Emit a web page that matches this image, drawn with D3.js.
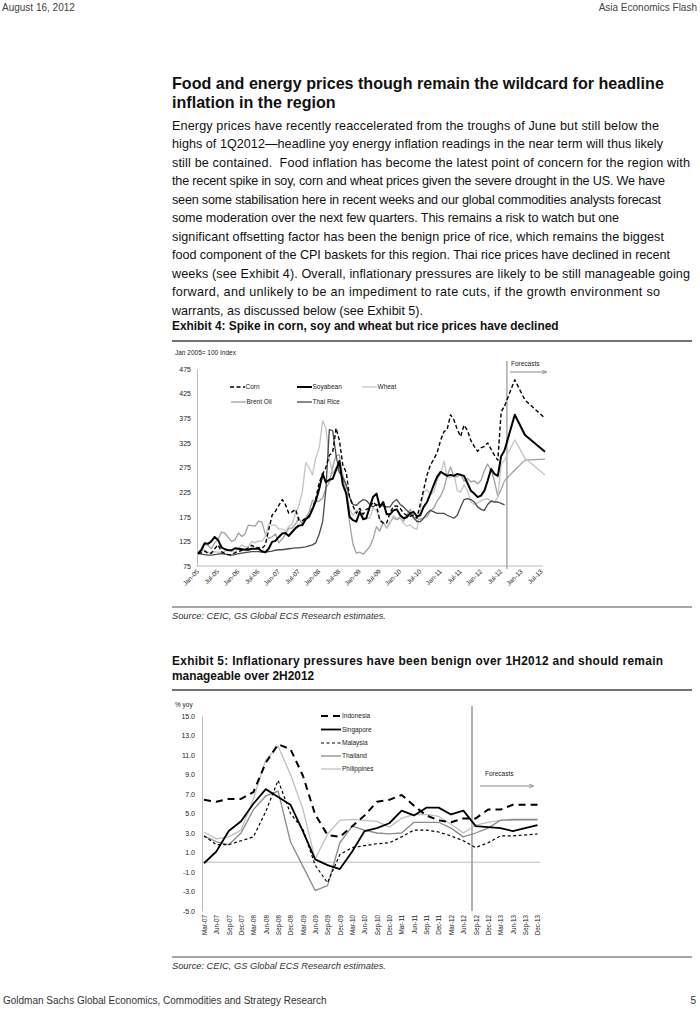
<!DOCTYPE html>
<html><head><meta charset="utf-8">
<script src="https://cdn.jsdelivr.net/npm/d3@7/dist/d3.min.js"></script>
<style>
html,body{margin:0;padding:0;background:#fff;}
svg{display:block;font-family:"Liberation Sans",Arial,sans-serif;}
</style></head>
<body>
<svg id="page" width="700" height="1009"></svg>
<script>
// ---------------- DATA ----------------
// Exhibit 4: monthly, Jan-05 .. Aug-12 (Jan 2005 = 100)
const ex4Start = "2005-01";
const corn = [100,102,105,101,101,110,118,104,100,98,97,102,
  104,107,108,112,117,113,112,110,118,148,178,186,
  198,210,200,182,185,190,168,167,172,177,192,212,
  245,262,275,300,305,355,330,280,265,215,197,182,
  192,180,190,193,205,198,168,162,162,183,196,197,
  192,182,178,176,178,172,200,230,260,280,292,305,
  330,348,352,382,372,352,338,361,350,330,318,308,
  315,318,325,312,300,290,388,400];
const soybean = [100,108,121,120,125,134,128,113,109,107,107,111,
  110,109,108,108,110,110,110,105,103,110,124,126,
  134,141,142,136,144,152,157,158,170,175,190,207,
  232,262,245,250,252,270,288,240,222,175,168,165,
  185,170,172,195,215,222,195,205,180,180,188,190,
  178,172,174,182,185,176,178,195,205,222,240,256,
  266,262,258,260,258,262,260,258,243,228,222,215,
  218,228,248,272,262,258,298,310];
const wheat = [100,104,108,103,101,104,103,102,105,108,104,103,
  110,118,114,114,125,122,126,125,135,160,158,158,
  150,150,146,155,160,182,198,225,285,275,260,295,
  315,370,355,292,262,275,265,262,235,190,178,188,
  190,175,172,172,192,188,170,162,152,162,177,172,
  174,162,156,158,152,150,188,225,230,220,225,250,
  262,288,255,255,262,228,225,240,228,205,200,203,
  208,210,212,205,205,215,282,290];
const brent = [100,103,119,117,110,122,129,144,142,133,125,128,
  142,135,140,158,157,156,166,164,140,131,134,140,
  122,130,139,152,152,160,173,159,173,185,208,206,
  207,213,233,245,276,299,300,256,223,163,119,101,
  103,99,106,114,130,155,146,164,152,164,173,169,
  172,166,178,190,171,167,170,173,175,187,193,207,
  217,233,258,276,257,256,262,247,253,246,248,242,
  249,269,282,269,248,216,231,248];
const thaiRice = [100,99,98,97,97,98,99,100,99,98,97,98,
  100,101,102,103,104,104,104,103,103,104,105,107,
  108,108,109,110,111,112,112,113,114,116,118,122,
  140,165,230,352,350,300,265,255,240,215,200,198,
  205,210,208,200,195,200,198,197,195,195,205,210,
  200,195,188,182,175,165,165,172,182,188,185,182,
  182,182,178,175,172,178,195,210,212,210,205,195,
  190,188,200,207,205,205,202,199];
// Exhibit 4 forecasts (from last actual)
const fcDates = ["2012-08","2012-11","2013-02","2013-08"];
const cornFc = [400,453,412,375];
const soybeanFc = [310,382,341,307];
const wheatFc = [290,331,294,260];
const brentFc = [248,270,290,292];
const ex4Ticks = [75,125,175,225,275,325,375,425,475];

// Exhibit 5: quarterly % yoy
const quarters = ["Mar-07","Jun-07","Sep-07","Dec-07","Mar-08","Jun-08","Sep-08","Dec-08",
  "Mar-09","Jun-09","Sep-09","Dec-09","Mar-10","Jun-10","Sep-10","Dec-10",
  "Mar-11","Jun-11","Sep-11","Dec-11","Mar-12","Jun-12","Sep-12","Dec-12",
  "Mar-13","Jun-13","Sep-13","Dec-13"];
const indonesia = [6.4,6.2,6.5,6.5,7.2,10.2,12.1,11.6,8.9,4.9,2.8,2.6,3.7,4.8,6.2,6.4,6.9,5.8,4.8,4.3,4.1,4.5,4.5,5.4,5.4,5.9,5.9,5.9];
const singapore = [-0.1,1.1,3.2,4.2,6.0,7.5,6.7,5.9,3.2,0.3,-0.3,-0.7,1.1,3.2,3.5,4.0,5.3,4.8,5.6,5.6,4.9,5.3,3.7,3.6,3.5,3.2,3.5,3.8];
const malaysia = [2.7,1.8,1.8,2.2,2.6,5.2,8.4,5.0,3.4,-0.3,-2.1,0.8,1.5,1.7,1.9,2.0,2.6,3.3,3.3,3.1,2.7,2.2,1.5,2.0,2.7,2.7,2.8,2.9];
const thailand = [2.7,2.1,1.8,3.0,5.4,6.8,7.3,2.1,-0.4,-2.9,-2.4,2.0,3.7,3.3,3.0,2.9,3.0,4.1,4.1,4.1,3.5,2.6,3.0,3.5,4.3,4.4,4.4,4.4];
const philippines = [3.1,2.4,2.6,3.3,6.5,10.5,11.9,9.0,5.5,0.3,2.9,4.3,4.4,4.3,4.2,3.6,4.5,4.9,4.9,4.7,3.9,3.0,3.8,4.1,4.3,4.3,4.3,4.3];
const ex5Ticks = [-5,-3,-1,1,3,5,7,9,11,13,15];

const bodyLines = [
 "Energy prices have recently reaccelerated from the troughs of June but still below the",
 "highs of 1Q2012\u2014headline yoy energy inflation readings in the near term will thus likely",
 "still be contained.\u00a0 Food inflation has become the latest point of concern for the region with",
 "the recent spike in soy, corn and wheat prices given the severe drought in the US. We have",
 "seen some stabilisation here in recent weeks and our global commodities analysts forecast",
 "some moderation over the next few quarters. This remains a risk to watch but one",
 "significant offsetting factor has been the benign price of rice, which remains the biggest",
 "food component of the CPI baskets for this region. Thai rice prices have declined in recent",
 "weeks (see Exhibit 4). Overall, inflationary pressures are likely to be still manageable going",
 "forward, and unlikely to be an impediment to rate cuts, if the growth environment so",
 "warrants, as discussed below (see Exhibit 5)."
];
const bodyEnds = [659,663,690,665,661,619,664,670,690,660,423];

// ---------------- PAGE ----------------
const svg = d3.select("#page");
svg.append("rect").attr("width",700).attr("height",1009).attr("fill","#fff");
const txt = (x,y,s,opt={}) => {
  const t = svg.append("text").attr("x",x).attr("y",y).text(s)
   .attr("font-size",opt.size||10).attr("fill",opt.fill||"#222")
   .attr("font-weight",opt.weight||"normal").attr("font-style",opt.style||"normal")
   .attr("text-anchor",opt.anchor||"start");
  if(opt.len) t.attr("textLength",opt.len).attr("lengthAdjust","spacing");
  return t;
};
const rule = (y,w,c) => svg.append("line").attr("x1",172).attr("x2",692).attr("y1",y).attr("y2",y)
   .attr("stroke",c).attr("stroke-width",w);

txt(2,11,"August 16, 2012",{size:10,fill:"#444"});
txt(697,11,"Asia Economics Flash",{size:10,fill:"#444",anchor:"end"});
txt(172,89,"Food and energy prices though remain the wildcard for headline",{size:16.1,weight:"bold",fill:"#111"});
txt(172,108,"inflation in the region",{size:16.1,weight:"bold",fill:"#111"});
bodyLines.forEach((l,i)=>txt(172,129.5+i*18.5,l,{size:12.6,fill:"#111",len:bodyEnds[i]-172}));

txt(172,330,"Exhibit 4: Spike in corn, soy and wheat but rice prices have declined",{size:11.9,weight:"bold",fill:"#111"});
rule(341,1.5,"#444");
txt(172,619,"Source: CEIC, GS Global ECS Research estimates.",{size:9.3,style:"italic",fill:"#333"});
rule(607,1.5,"#888");

txt(172,665,"Exhibit 5: Inflationary pressures have been benign over 1H2012 and should remain",{size:11.9,weight:"bold",fill:"#111",len:491});
txt(172,680,"manageable over 2H2012",{size:11.9,weight:"bold",fill:"#111"});
rule(690,1.5,"#444");
txt(172,969,"Source: CEIC, GS Global ECS Research estimates.",{size:9.3,style:"italic",fill:"#333"});
rule(957,1.5,"#888");

txt(3,1004,"Goldman Sachs Global Economics, Commodities and Strategy Research",{size:10,fill:"#333"});
txt(696,1004,"5",{size:10,fill:"#333",anchor:"end"});

svg.append("defs").append("marker").attr("id","arr").attr("viewBox","0 0 6 6").attr("refX",5).attr("refY",3)
  .attr("markerWidth",5).attr("markerHeight",5).attr("orient","auto")
  .append("path").attr("d","M0,0.5 L6,3 L0,5.5").attr("fill","none").attr("stroke","#888").attr("stroke-width",1);

// ---------------- EXHIBIT 4 ----------------
const parseM = d3.timeParse("%Y-%m");
const startDate = parseM(ex4Start);
const histDates = corn.map((d,i)=>d3.timeMonth.offset(startDate,i));
const fcD = fcDates.map(parseM);
const x1 = d3.scaleTime().domain([startDate, parseM("2013-08")]).range([198,545]);
const y1 = d3.scaleLinear().domain([75,475]).range([566,369]);
const g1 = svg.append("g");
txt(175,355,"Jan 2005= 100 Index",{size:6.5,fill:"#222"});

const yAx1 = d3.axisLeft(y1).tickValues(ex4Ticks).tickSize(0).tickPadding(6).tickFormat(d3.format("d"));
g1.append("g").attr("transform","translate(197,0)").call(yAx1)
  .call(g=>{g.select(".domain").attr("stroke","#bbb");g.selectAll("text").attr("font-size",7).attr("fill","#222").attr("font-family","Liberation Sans, Arial");});
const xTicks1 = d3.timeMonth.every(6).range(startDate, parseM("2013-08"));
const xAx1 = d3.axisBottom(x1).tickValues(xTicks1).tickSize(0).tickFormat(d3.timeFormat("%b-%y"));
g1.append("g").attr("transform","translate(0,566)").call(xAx1)
  .call(g=>{g.select(".domain").attr("stroke","#bbb").attr("d","M197,0H543");
    g.selectAll("text").attr("font-size",6.5).attr("fill","#222").attr("font-family","Liberation Sans, Arial")
     .attr("text-anchor","end").attr("dy",0).attr("y",0).attr("transform","translate(1,6) rotate(-45)");});

// forecast divider
const fx1 = x1(parseM("2012-08"))+2.3;
g1.append("line").attr("x1",fx1).attr("x2",fx1).attr("y1",361).attr("y2",569).attr("stroke","#aaa").attr("stroke-width",1.5);
txt(511,366,"Forecasts",{size:6.5,fill:"#222"});
svg.append("line").attr("x1",510).attr("x2",546).attr("y1",372).attr("y2",372).attr("stroke","#888").attr("stroke-width",1).attr("marker-end","url(#arr)");

const s1 = [
 {name:"Brent Oil", v:brent, fc:brentFc, c:"#a0a0a0", w:1.3, dash:null},
 {name:"Wheat", v:wheat, fc:wheatFc, c:"#c4c4c4", w:1.3, dash:null},
 {name:"Thai Rice", v:thaiRice, fc:null, c:"#4a4a4a", w:1.3, dash:null},
 {name:"Soyabean", v:soybean, fc:soybeanFc, c:"#000", w:2, dash:null},
 {name:"Corn", v:corn, fc:cornFc, c:"#000", w:1.4, dash:"4,2.5"}
];
const line1 = d3.line().x(d=>x1(d[0])).y(d=>y1(d[1]));
s1.forEach(s=>{
  const pts = s.v.map((v,i)=>[histDates[i],v]);
  g1.append("path").attr("d",line1(pts)).attr("fill","none").attr("stroke",s.c).attr("stroke-width",s.w)
    .attr("stroke-dasharray",s.dash).attr("stroke-linejoin","round");
  if(s.fc){
    const fp = s.fc.map((v,i)=>[fcD[i],v]);
    g1.append("path").attr("d",line1(fp)).attr("fill","none").attr("stroke",s.c).attr("stroke-width",s.w)
      .attr("stroke-dasharray",s.dash).attr("stroke-linejoin","round");
  }
});
// legend exhibit 4
const leg1 = [
 {name:"Corn",x:230,y:387,c:"#000",w:1.4,dash:"4,2.5"},
 {name:"Soyabean",x:297,y:387,c:"#000",w:2,dash:null},
 {name:"Wheat",x:362,y:387,c:"#c4c4c4",w:1.3,dash:null},
 {name:"Brent Oil",x:231,y:402,c:"#a0a0a0",w:1.3,dash:null},
 {name:"Thai Rice",x:297,y:402,c:"#4a4a4a",w:1.3,dash:null}
];
leg1.forEach(l=>{
  svg.append("line").attr("x1",l.x).attr("x2",l.x+15).attr("y1",l.y).attr("y2",l.y)
   .attr("stroke",l.c).attr("stroke-width",l.w).attr("stroke-dasharray",l.dash);
  txt(l.x+15.5,l.y+2.3,l.name,{size:6.5,fill:"#222"});
});

// ---------------- EXHIBIT 5 ----------------
const x2 = d3.scalePoint().domain(quarters).range([204,537.5]);
const y2 = d3.scaleLinear().domain([-5,15]).range([911,716]);
const g2 = svg.append("g");
txt(175,707,"% yoy",{size:6.5,fill:"#222"});
const fmt5 = d3.formatLocale({decimal:".",thousands:",",grouping:[3],currency:["",""],minus:"-"}).format(".1f");
const yAx2 = d3.axisLeft(y2).tickValues(ex5Ticks).tickSize(0).tickPadding(7).tickFormat(fmt5);
g2.append("g").attr("transform","translate(202,0)").call(yAx2)
  .call(g=>{g.select(".domain").attr("stroke","#bbb");g.selectAll("text").attr("font-size",7).attr("fill","#222").attr("font-family","Liberation Sans, Arial");});
g2.append("line").attr("x1",202).attr("x2",540).attr("y1",y2(0)).attr("y2",y2(0)).attr("stroke","#bbb").attr("stroke-width",1);
const xAx2 = d3.axisBottom(x2).tickSize(0);
g2.append("g").attr("transform","translate(0,911)").call(xAx2)
  .call(g=>{g.select(".domain").remove();
    g.selectAll("text").attr("font-size",6.3).attr("fill","#222").attr("font-family","Liberation Sans, Arial")
     .attr("text-anchor","end").attr("dy",0).attr("y",0).attr("transform","translate(2.3,4) rotate(-90)");});
g2.append("line").attr("x1",472).attr("x2",472).attr("y1",706).attr("y2",911).attr("stroke","#aaa").attr("stroke-width",1.8);
txt(485,776,"Forecasts",{size:6.5,fill:"#222"});
svg.append("line").attr("x1",480).attr("x2",533).attr("y1",786).attr("y2",786).attr("stroke","#888").attr("stroke-width",1).attr("marker-end","url(#arr)");

const s2 = [
 {name:"Indonesia", v:indonesia, c:"#000", w:2, dash:"7,5"},
 {name:"Singapore", v:singapore, c:"#000", w:1.8, dash:null},
 {name:"Malaysia", v:malaysia, c:"#000", w:1.2, dash:"3,2.5"},
 {name:"Thailand", v:thailand, c:"#8a8a8a", w:1.3, dash:null},
 {name:"Philippines", v:philippines, c:"#c0c0c0", w:1.3, dash:null}
];
const line2 = d3.line().x((d,i)=>x2(quarters[i])).y(d=>y2(d));
[...s2].reverse().forEach(s=>{
  g2.append("path").attr("d",line2(s.v)).attr("fill","none").attr("stroke",s.c).attr("stroke-width",s.w)
    .attr("stroke-dasharray",s.dash).attr("stroke-linejoin","round");
});
const legY = [716,729.5,743,756,769];
s2.forEach((s,i)=>{
  svg.append("line").attr("x1",321).attr("x2",341).attr("y1",legY[i]).attr("y2",legY[i])
   .attr("stroke",s.c).attr("stroke-width",s.w).attr("stroke-dasharray",s.dash);
  txt(342,legY[i]+2.3,s.name,{size:6.5,fill:"#222"});
});
</script>
</body></html>
